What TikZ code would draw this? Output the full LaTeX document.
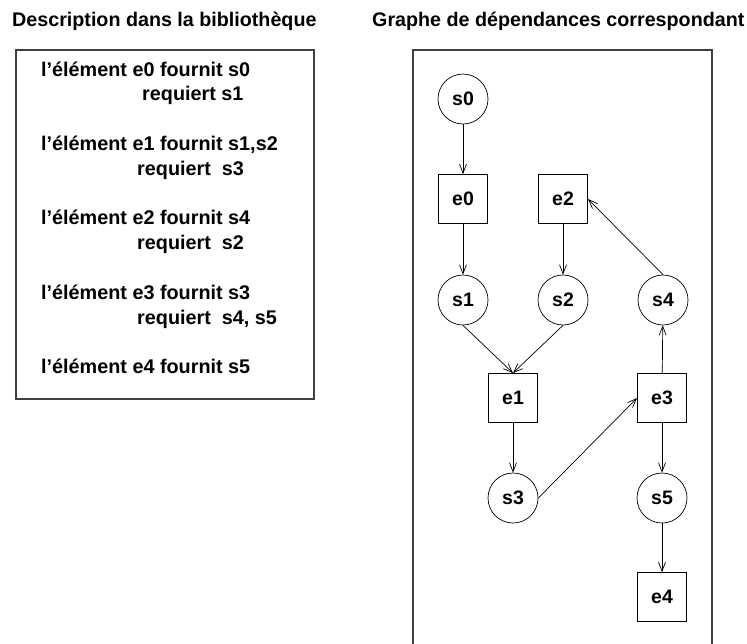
\documentclass[tikz,border=0pt]{standalone}
\usepackage{fontspec}
\setmainfont{Liberation Sans}
\usetikzlibrary{arrows.meta}
\begin{document}
\begin{tikzpicture}[x=1pt,y=-1pt,
  txt/.style={anchor=base west,inner sep=0pt,font=\fontsize{19.8}{23}\selectfont\bfseries},
  ttl/.style={anchor=base west,inner sep=0pt,font=\fontsize{19.7}{23}\selectfont\bfseries},
  frame/.style={draw=black!75,line width=1.1pt},
  snode/.style={draw,circle,minimum size=50pt,inner sep=0pt,line width=0.7pt,font=\fontsize{19.5}{23}\selectfont\bfseries},
  enode/.style={draw,rectangle,minimum size=49pt,inner sep=0pt,line width=0.9pt,font=\fontsize{19.5}{23}\selectfont\bfseries},
  arr/.style={-{Straight Barb[length=9pt,width=7pt]},line width=0.7pt}]
\clip (0,0) rectangle (747,643);
\fill[white] (0,0) rectangle (747,643);
% titles
\node[ttl] (t1) at (12,26) {Description dans la bibliothèque};
\node[ttl] (t2) at (372,26) {Graphe de dépendances correspondant};
% left box
\draw[frame] (16,50) rectangle (314,399);
\node[txt] (l1) at (41,76) {l’élément e0 fournit s0};
\node[txt] (r1) at (142,100) {requiert s1};
\node[txt] (l2) at (41,150) {l’élément e1 fournit s1,s2};
\node[txt] (r2) at (137,175) {requiert\ \ s3};
\node[txt] (l3) at (41,224) {l’élément e2 fournit s4};
\node[txt] (r3) at (137,249) {requiert\ \ s2};
\node[txt] (l4) at (41,299) {l’élément e3 fournit s3};
\node[txt] (r4) at (137,324) {requiert\ \ s4, s5};
\node[txt] (l5) at (41,373) {l’élément e4 fournit s5};
% right box
\draw[frame] (413,50) rectangle (712,700);
\node[snode] (s0) at (463,99) {s0};
\node[enode] (e0) at (463,199) {e0};
\node[enode] (e2) at (563,199) {e2};
\node[snode] (s1) at (463,300) {s1};
\node[snode] (s2) at (563,300) {s2};
\node[snode] (s4) at (663,300) {s4};
\node[enode] (e1) at (513,398) {e1};
\node[enode] (e3) at (662,398) {e3};
\node[snode] (s3) at (513,498) {s3};
\node[snode] (s5) at (662,498) {s5};
\node[enode] (e4) at (662,597) {e4};
\draw[arr] (s0) -- (e0);
\draw[arr] (e0) -- (s1);
\draw[arr] (e2) -- (s2);
\draw[arr] (s1.south) -- (e1.north);
\draw[arr] (s2.south) -- (e1.north);
\draw[arr] (e1) -- (s3);
\draw[arr] (s3.east) -- (e3.west);
\draw[arr] (e3) -- (s4);
\draw[arr] (e3) -- (s5);
\draw[arr] (s5) -- (e4);
\draw[arr] (s4.north) -- (e2.east);
\end{tikzpicture}
\end{document}
